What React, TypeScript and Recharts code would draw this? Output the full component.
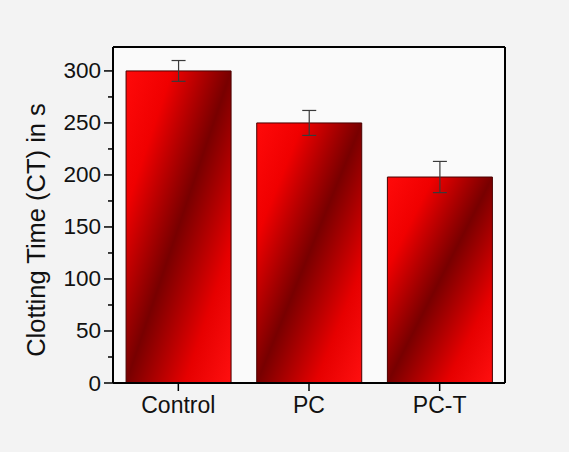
import React from 'react';
import { BarChart, Bar, XAxis, YAxis, ErrorBar, CartesianGrid, Label } from 'recharts';

// Values
const categories = ['Control', 'PC', 'PC-T'];
const clottingTime = [300, 250, 198];
const clottingError = [10, 12, 15];
const yTicks = [0, 25, 50, 75, 100, 125, 150, 175, 200, 225, 250, 275, 300];

const FONT = '"Liberation Sans", Arial, sans-serif';

const data = categories.map((name, i) => ({
  name,
  ct: clottingTime[i],
  err: clottingError[i],
}));

// y axis tick with minor ticks between labelled ones
const YTick = (props: any) => {
  const { x, y, payload } = props;
  const major = payload.value % 50 === 0;
  return (
    <g>
      <line x1={x} x2={x - (major ? 9 : 5)} y1={y} y2={y} stroke="#000" strokeWidth={1.5} />
      {major && (
        <text
          x={x - 12}
          y={y}
          textAnchor="end"
          dominantBaseline="central"
          fontSize={22.5}
          fontFamily={FONT}
          fill="#111"
        >
          {payload.value}
        </text>
      )}
    </g>
  );
};

const App: React.FC = () => {
  return (
    <div style={{ position: 'absolute', left: 0, top: 0, width: 569, height: 452, background: '#f3f3f3' }}>
      <BarChart
        width={569}
        height={452}
        data={data}
        margin={{ top: 47, right: 64, left: 0, bottom: 0 }}
        barCategoryGap="10%"
      >
        <defs>
          <linearGradient id="barGrad" x1="0" y1="0" x2="1" y2="1">
            <stop offset="0%" stopColor="#ff0a0a" />
            <stop offset="22%" stopColor="#f00000" />
            <stop offset="50%" stopColor="#780000" />
            <stop offset="78%" stopColor="#e60000" />
            <stop offset="100%" stopColor="#ff1010" />
          </linearGradient>
        </defs>
        {/* plot background plus top and right frame lines */}
        <CartesianGrid
          fill="#fafafa"
          stroke="#000"
          strokeWidth={2}
          horizontalCoordinatesGenerator={({ offset }: any) => [offset.top]}
          verticalCoordinatesGenerator={({ offset }: any) => [offset.left + offset.width]}
        />
        <XAxis
          dataKey="name"
          height={69}
          axisLine={{ stroke: '#000', strokeWidth: 2 }}
          tickLine={{ stroke: '#000', strokeWidth: 1.5 }}
          tickSize={8}
          tickMargin={6}
          tick={{ fontSize: 23, fontFamily: FONT, fill: '#111' }}
        />
        <YAxis
          width={113}
          domain={[0, 323]}
          ticks={yTicks}
          interval={0}
          tickSize={0}
          tickMargin={0}
          axisLine={{ stroke: '#000', strokeWidth: 2 }}
          tickLine={false}
          tick={<YTick />}
        >
          <Label
            value="Clotting Time (CT) in s"
            angle={-90}
            position="center"
            dx={-21}
            dy={15}
            style={{ fontSize: 25.5, fontFamily: FONT, fill: '#111', textAnchor: 'middle' }}
          />
        </YAxis>
        <Bar
          dataKey="ct"
          fill="url(#barGrad)"
          stroke="#4a0000"
          strokeWidth={1}
          isAnimationActive={false}
        >
          <ErrorBar dataKey="err" width={7} stroke="#3a3a3a" strokeWidth={1.2} />
        </Bar>
      </BarChart>
    </div>
  );
};

export default App;
